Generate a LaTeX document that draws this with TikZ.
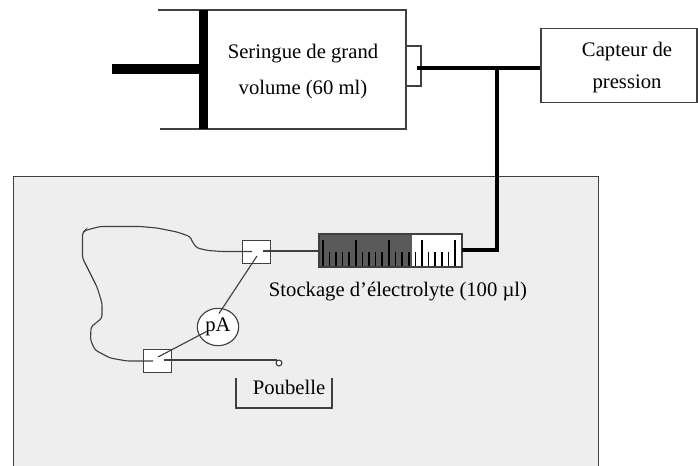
\documentclass[tikz,border=0pt]{standalone}
\usepackage{fontspec}
\setmainfont{Liberation Serif}
\usetikzlibrary{shapes.geometric}
\definecolor{Panel}{HTML}{EEEEEE}
\definecolor{Wire}{HTML}{404040}
\definecolor{Barrel}{HTML}{5A5A5A}
\tikzset{
  valvebox/.style={draw=Wire,fill=white,minimum width=21pt,minimum height=17pt,inner sep=0pt},
  legend/.style={font=\fontsize{15.5}{27}\selectfont,inner sep=0pt,align=center},
  wire/.style={Wire,line width=0.85pt},
  bigtube/.style={line width=3.5pt,black}
}
\begin{document}
\begin{tikzpicture}[x=0.75pt,y=-0.75pt]
  \useasboundingbox (0,0) rectangle (698,466);
  % panel
  \draw[Wire,fill=Panel] (13,466) -- (13,176) -- (598,176) -- (598,466);
  % big syringe
  \draw[wire] (158,10) -- (406,10) -- (406,129) -- (160,129);
  \draw[wire] (406,46) -- (421,46) -- (421,86) -- (406,86);
  \fill[black] (199,10) rectangle (208,129);
  \fill[black] (112,64) rectangle (199,74);
  \node[legend] (seringue) at (303,72) {Seringue de grand\\volume (60 ml)};
  % sensor
  \node[draw=Wire,line width=0.85pt,fill=white,minimum width=117pt,minimum height=56pt,inner sep=0pt] (capteur) at (619,65.5) {};
  \node[legend,font=\fontsize{15.5}{24}\selectfont] (capteurtexte) at (627,68) {Capteur de\\pression};
  % small syringe
  \fill[white] (319,234) rectangle (462,267);
  \fill[Barrel] (319,234) rectangle (412,267);
  \foreach \i in {0,...,20}{
    \pgfmathsetmacro{\tickx}{322.7+6.62*\i}
    \pgfmathtruncatemacro{\tall}{mod(\i,5)==0 ? 1 : 0}
    \ifnum\tall=1
      \draw[black,line width=1.2pt] (\tickx,266) -- (\tickx,240);
    \else
      \draw[black,line width=1.2pt] (\tickx,266) -- (\tickx,252);
    \fi
  }
  \draw[Wire,line width=0.9pt] (319,234) rectangle (462,267);
  \coordinate (reservoir) at (319,251);
  \coordinate (reservoirend) at (462,250);
  \node[legend] (stockage) at (398,292) {Stockage d’électrolyte (100 µl)};
  % tubes
  \coordinate (nozzle) at (417,68);
  \coordinate (junction) at (497,68);
  \draw[bigtube] (nozzle) -- (capteur.west |- nozzle);
  \draw[bigtube] (junction) -- (junction |- reservoirend) -- (reservoirend);
  % valves and electrometer
  \node[valvebox] (vanneA) at (256,251.5) {};
  \node[valvebox] (vanneB) at (157.5,361) {};
  \node[legend,draw=Wire,line width=0.85pt,fill=white,ellipse,minimum width=31pt,minimum height=28pt] (pico) at (218,327) {pA};
  % capillary
  \draw[wire,rounded corners=2pt] (252,251.5) -- (222,251.5) -- (208,250.5) -- (197,248) -- (193,243) -- (190,236.5)
    -- (177,232) -- (157,228) -- (140,226.5) -- (100,226.5) -- (85,230.5) -- (82.5,233) -- (82.5,258)
    -- (90,273) -- (97,287) -- (102,303) -- (102,318) -- (91,327) -- (90.5,340) -- (95,350) -- (110,358)
    -- (127,361) -- (153,361);
  % connections
  \coordinate (innerA) at (257,256);
  \coordinate (innerB) at (158,357);
  \coordinate (sortieA) at (263,251);
  \coordinate (sortieB) at (164,360);
  \coordinate (picoA) at (219,313.5);
  \coordinate (picoB) at (206.5,331.5);
  \coordinate (dechet) at (279,363);
  \draw[wire] (innerA) -- (picoA);
  \draw[wire] (innerB) -- (picoB);
  \draw[wire] (sortieA) -- (reservoir);
  \draw[wire] (sortieB) -- (276.5,360);
  \draw[wire,fill=white] (dechet) circle (2.2pt);
  % bin
  \draw[wire] (236,378) -- (236,408) -- (332,408) -- (332,378);
  \node[legend] (poubelle) at (289,387) {Poubelle};
\end{tikzpicture}
\end{document}
